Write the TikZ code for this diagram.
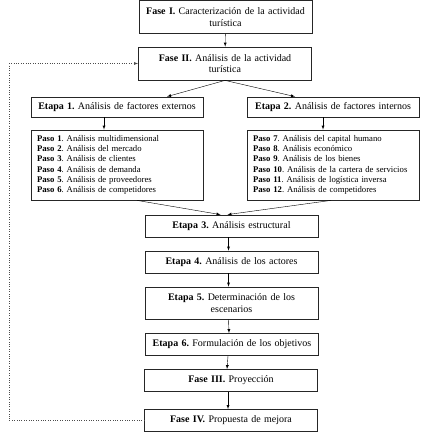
\documentclass[tikz,border=0pt]{standalone}
\usepackage{fontspec}
\setmainfont{Liberation Serif}
\usetikzlibrary{arrows}

\newcommand{\boxfont}{\fontsize{10pt}{11.5pt}\selectfont\frenchspacing}
\newcommand{\listfont}{\fontsize{8.7pt}{10.2pt}\selectfont\frenchspacing}

\begin{document}
\begin{tikzpicture}[x=1pt, y=-1pt, >=latex]

\tikzstyle{fase} =
[rectangle,
minimum width=173pt,
minimum height=33pt,
text width=167pt,
align=center,
inner sep=1pt,
font=\boxfont,
draw=black!85,
line width=0.8pt]

\tikzstyle{etapa} =
[rectangle,
minimum width=173pt,
minimum height=22pt,
text width=167pt,
align=center,
inner sep=1pt,
font=\boxfont,
draw=black!85,
line width=0.8pt]

\tikzstyle{pasos} =
[rectangle,
minimum width=172pt,
minimum height=70pt,
text width=160pt,
align=left,
inner xsep=6pt,
inner ysep=1pt,
font=\listfont,
draw=black!85,
line width=0.8pt]

\useasboundingbox (0,0) rectangle (421,443);

\node (fase1) [fase] at (225.5,17)
{\textbf{Fase I.} Caracterización de la actividad\\ turística};

\node (fase2) [fase] at (225,63.5)
{\textbf{Fase II.} Análisis de la actividad\\ turística};

\node (etapa1) [etapa, minimum height=20pt, minimum width=172pt] at (117,107)
{\textbf{Etapa 1.} Análisis de factores externos};

\node (etapa2) [etapa, minimum height=20pt, minimum width=172pt] at (333,107)
{\textbf{Etapa 2.} Análisis de factores internos};

\node (pasos1) [pasos] at (117,165)
{\textbf{Paso 1}. Análisis multidimensional\\
\textbf{Paso 2}. Análisis del mercado\\
\textbf{Paso 3}. Análisis de clientes\\
\textbf{Paso 4}. Análisis de demanda\\
\textbf{Paso 5}. Análisis de proveedores\\
\textbf{Paso 6}. Análisis de competidores};

\node (pasos2) [pasos] at (333,165)
{\textbf{Paso 7}. Análisis del capital humano\\
\textbf{Paso 8}. Análisis económico\\
\textbf{Paso 9}. Análisis de los bienes\\
\textbf{Paso 10}. Análisis de la cartera de servicios\\
\textbf{Paso 11}. Análisis de logística inversa\\
\textbf{Paso 12}. Análisis de competidores};

\node (etapa3) [etapa] at (231.5,226)
{\textbf{Etapa 3.} Análisis estructural};

\node (etapa4) [etapa] at (231.5,262)
{\textbf{Etapa 4.} Análisis de los actores};

\node (etapa5) [etapa, minimum height=32pt] at (231.5,303)
{\textbf{Etapa 5.} Determinación de los\\ escenarios};

\node (etapa6) [etapa] at (232,344.5)
{\textbf{Etapa 6.} Formulación de los objetivos};

\node (fase3) [etapa] at (231,380.5)
{\textbf{Fase III.} Proyección};

\node (fase4) [etapa] at (231,420.5)
{\textbf{Fase IV.} Propuesta de mejora};

\coordinate (back) at (9,420.5);

\draw[->] (fase1) -- (fase2);
\draw[->] (fase2.south) -- ([xshift=50pt]etapa1.north);
\draw[->] (fase2.south) -- ([xshift=-38pt]etapa2.north);
\draw[->] ([xshift=-13pt]etapa1.south) -- ([xshift=-13pt]pasos1.north);
\draw[->] ([xshift=-10pt]etapa2.south) -- ([xshift=-10pt]pasos2.north);
\draw[->] ([xshift=20pt]pasos1.south) -- ([xshift=-11pt]etapa3.north);
\draw[->] ([xshift=-2pt]pasos2.south) -- ([xshift=-4pt]etapa3.north);
\draw[->] ([xshift=-3pt]etapa3.south) -- ([xshift=-3pt]etapa4.north);
\draw[->] ([xshift=-3pt]etapa4.south) -- ([xshift=-3pt]etapa5.north);
\draw[->] ([xshift=-3pt]etapa5.south) -- ([xshift=-3pt]etapa6.north);
\draw[->] ([xshift=-4pt]etapa6.south) -- ([xshift=-4pt]fase3.north);
\draw[->] ([xshift=-3pt]fase3.south) -- ([xshift=-3pt]fase4.north);
\draw[->, dotted, black!70] (fase4.west) -- (back) |- (fase2.west);

\end{tikzpicture}
\end{document}
